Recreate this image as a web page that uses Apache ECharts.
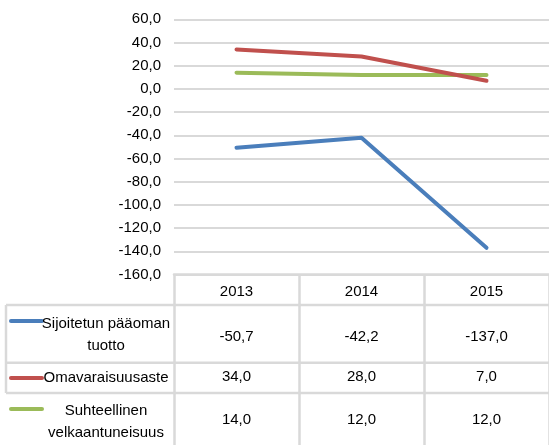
<!DOCTYPE html>
<html>
<head>
<meta charset="utf-8">
<script src="https://cdn.jsdelivr.net/npm/echarts@6/dist/echarts.min.js"></script>
<style>
  html, body { margin: 0; padding: 0; background: #fff; }
  #chart { width: 549px; height: 445px; }
</style>
</head>
<body>
<div id="chart"></div>
<script>
const years = ["2013", "2014", "2015"];
const seriesNames = ["Sijoitetun pääoman\ntuotto", "Omavaraisuusaste", "Suhteellinen\nvelkaantuneisuus"];
const roce = [-50.7, -42.2, -137.0];
const equityRatio = [34.0, 28.0, 7.0];
const relIndebtedness = [14.0, 12.0, 12.0];
const colors = ["#4a7ebb", "#c0504d", "#9bbb59"];

const font = "'Liberation Sans', Arial, sans-serif";
const grey = "#d9d9d9";
const fmt = (v) => v.toFixed(1).replace(".", ",");

const chart = echarts.init(document.getElementById("chart"));
const allSeries = [roce, equityRatio, relIndebtedness];

chart.setOption({
  animation: false,
  grid: { left: 174, right: -4, top: 19.3, bottom: 170.5 },
  xAxis: {
    type: "category",
    data: years,
    boundaryGap: true,
    axisLine: { onZero: false, lineStyle: { color: grey, width: 2.5 } },
    axisTick: { show: true, inside: false, length: 172, lineStyle: { color: grey, width: 2.5 } },
    axisLabel: { margin: 10, color: "#000", fontFamily: font, fontSize: 15 },
  },
  yAxis: {
    type: "value",
    min: -160,
    max: 60,
    interval: 20,
    axisLine: { show: false },
    axisTick: { show: false },
    axisLabel: {
      margin: 13,
      color: "#000",
      fontFamily: font,
      fontSize: 15,
      formatter: fmt,
    },
    splitLine: { lineStyle: { color: grey, width: 2 } },
  },
  series: allSeries.map((d, i) => ({
    type: "line",
    name: seriesNames[i],
    data: d,
    symbol: "none",
    lineStyle: { color: colors[i], width: 4, cap: "round", join: "round" },
    z: 3 - i,
  })),
});

// data table below the plot
const rowLines = [305, 362.7, 393];
const rowValueY = [337, 377, 420];
const labelY = [335, 378, 422];
const keyY = [321, 378, 409];

const graphic = [];
rowLines.forEach((y) => {
  graphic.push({
    type: "line",
    shape: { x1: 6, y1: y, x2: 560, y2: y },
    style: { stroke: grey, lineWidth: 2.5 },
  });
});
graphic.push({
  type: "line",
  shape: { x1: 6, y1: rowLines[0], x2: 6, y2: rowLines[2] },
  style: { stroke: grey, lineWidth: 2.5 },
});

allSeries.forEach((d, i) => {
  graphic.push({
    type: "line",
    shape: { x1: 11, y1: keyY[i], x2: 42, y2: keyY[i] },
    style: { stroke: colors[i], lineWidth: 4, lineCap: "round" },
  });
  graphic.push({
    type: "text",
    x: 106,
    y: labelY[i],
    style: {
      text: seriesNames[i],
      fill: "#000",
      font: "15px " + font,
      lineHeight: 22,
      align: "center",
      verticalAlign: "middle",
    },
  });
  d.forEach((v, j) => {
    const px = chart.convertToPixel({ xAxisIndex: 0 }, years[j]);
    graphic.push({
      type: "text",
      x: px,
      y: rowValueY[i],
      style: {
        text: fmt(v),
        fill: "#000",
        font: "15px " + font,
        align: "center",
        verticalAlign: "middle",
      },
    });
  });
});

chart.setOption({ graphic: graphic });
</script>
</body>
</html>
